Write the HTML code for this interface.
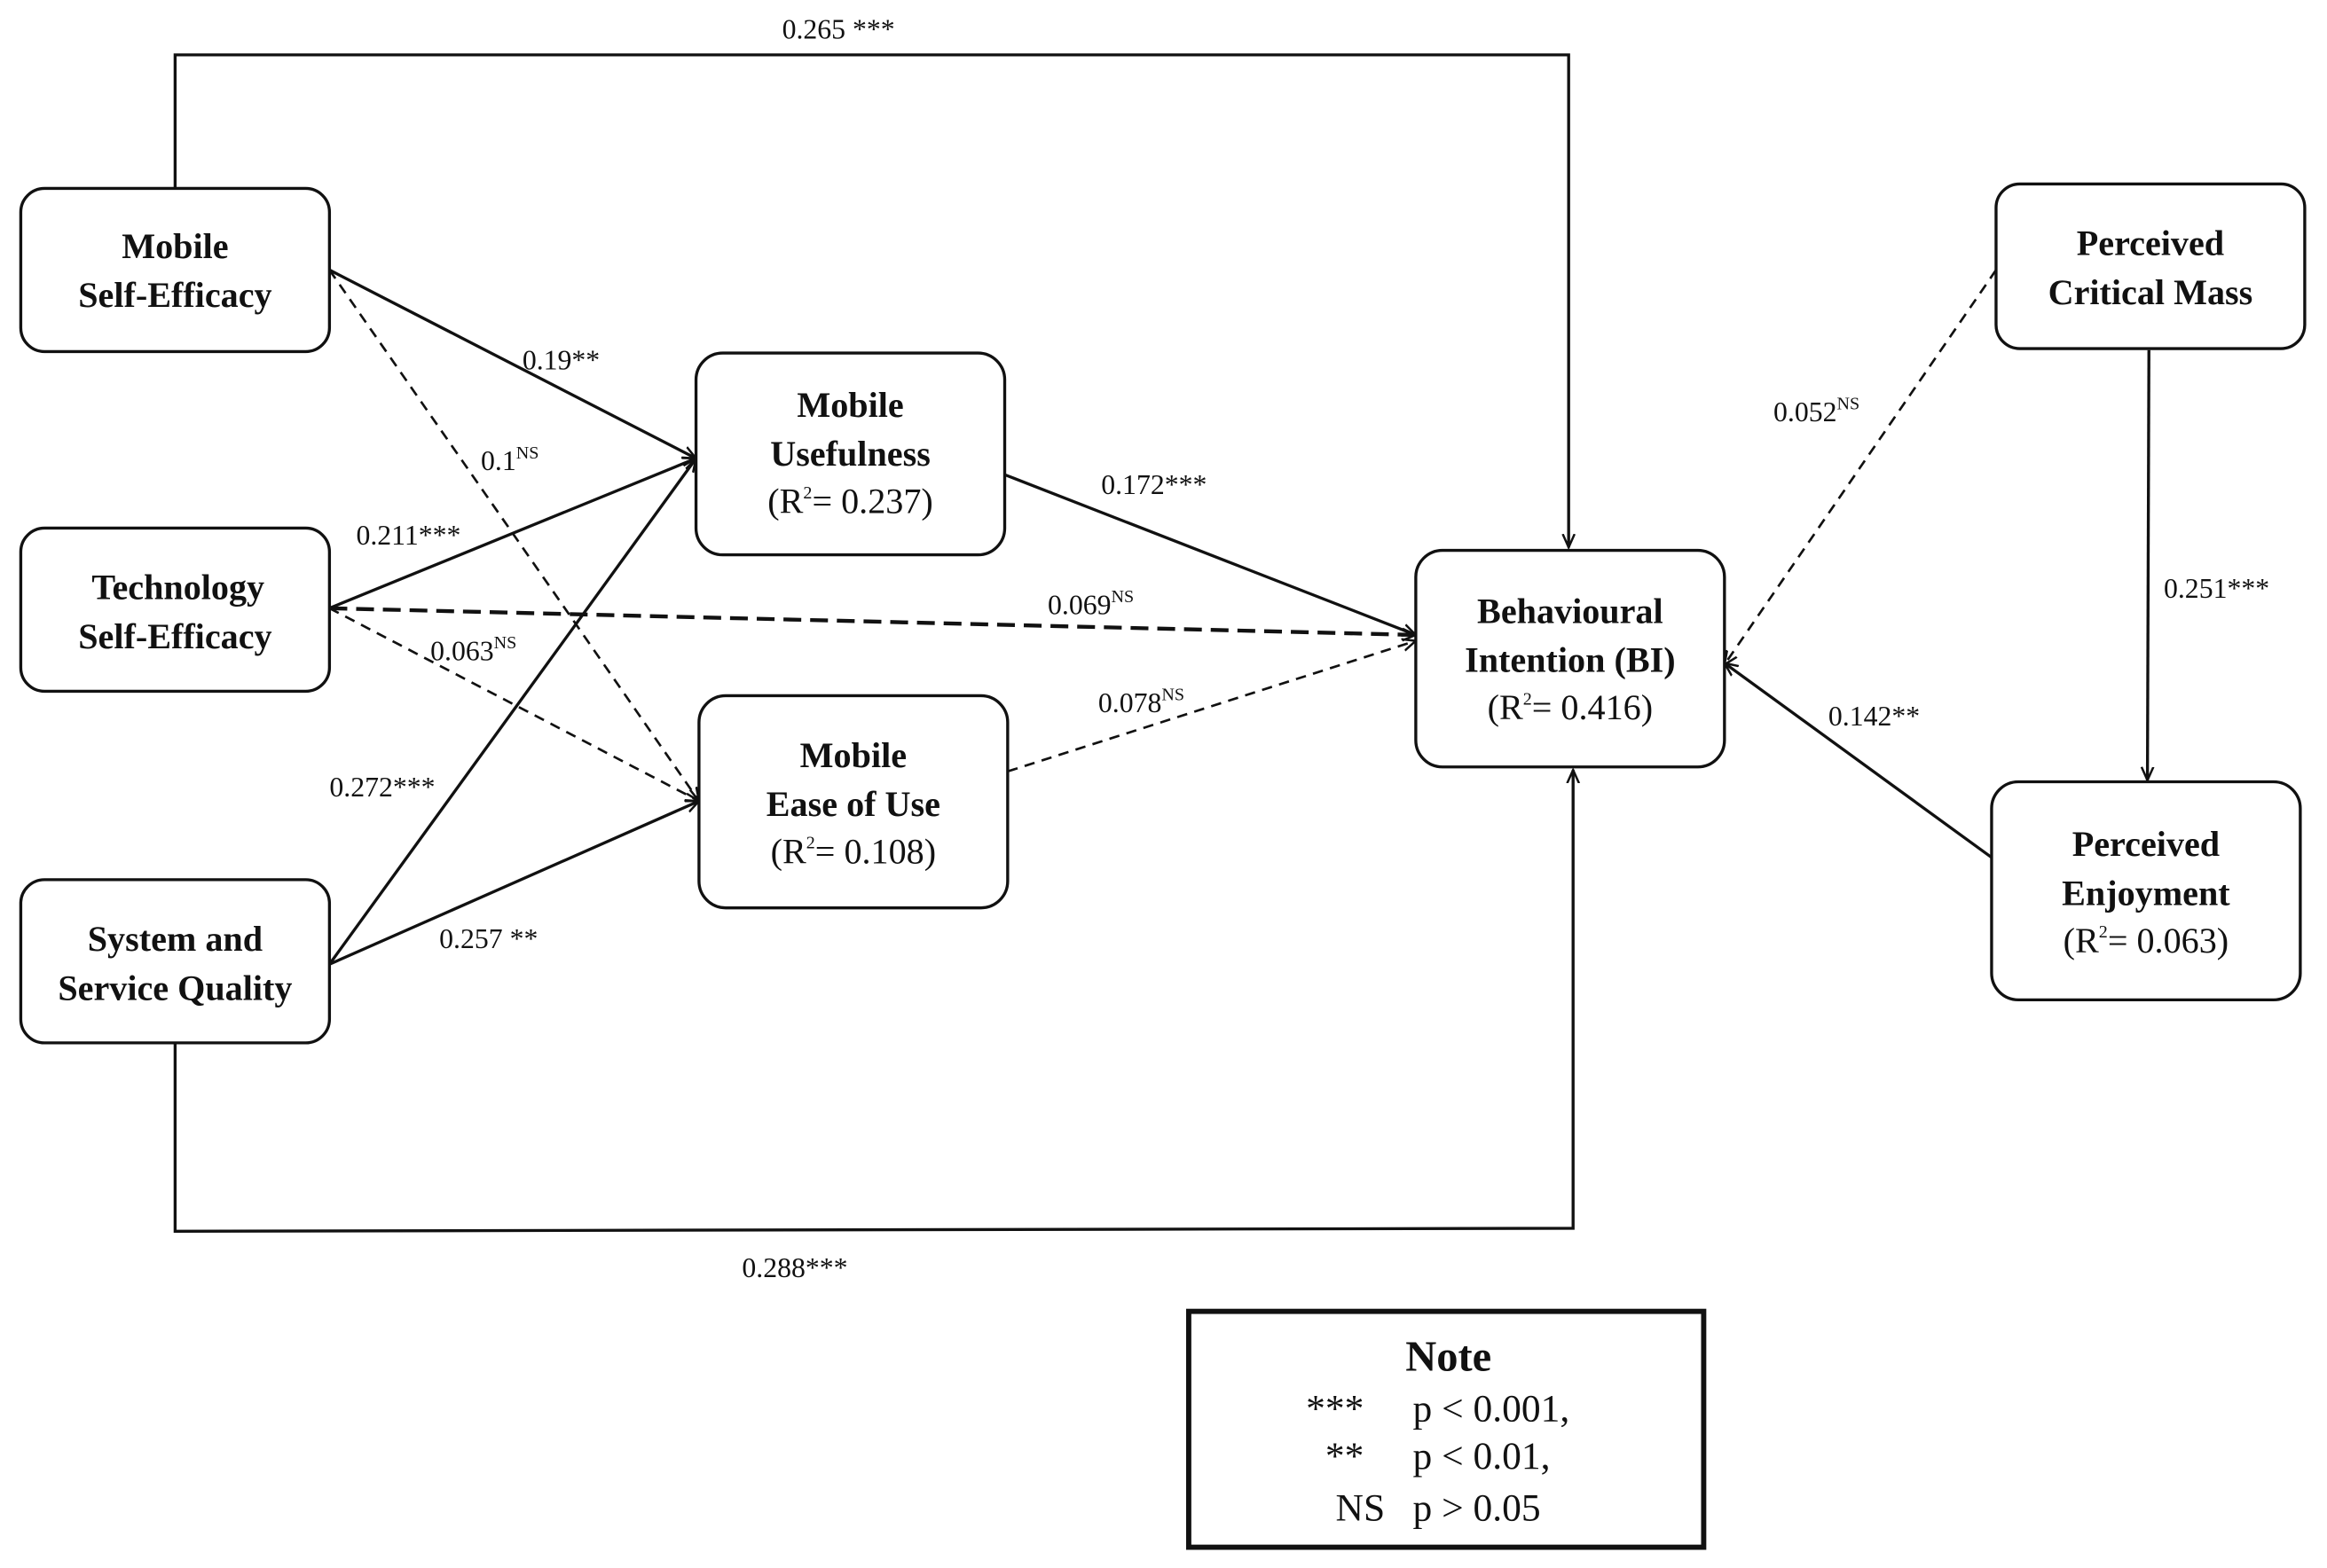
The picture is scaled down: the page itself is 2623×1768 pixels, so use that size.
<!DOCTYPE html>
<html><head><meta charset="utf-8"><style>
html,body{margin:0;padding:0;background:#fff;}
svg{display:block;}
text{font-family:"Liberation Serif",serif;fill:#111;}
.b{font-weight:bold;font-size:24px;}
.n{font-size:24px;}
.l{font-size:19px;}
.s{font-size:12px;}
</style></head><body>
<svg width="2623" height="1768" viewBox="0 0 1568 1057" preserveAspectRatio="none">
<defs>
<marker id="a" markerWidth="10" markerHeight="10" refX="9" refY="5" orient="auto" markerUnits="userSpaceOnUse">
<path d="M0,1 L9,5 L0,9" fill="none" stroke="#111" stroke-width="1.5"/>
</marker>
</defs>
<g fill="none" stroke="#111" stroke-width="2">
<polyline points="118,127 118,37 1057,37 1057,369" marker-end="url(#a)"/>
<polyline points="118,703 118,830 1060,828 1060,519" marker-end="url(#a)"/>
<line x1="222" y1="182" x2="469" y2="309" marker-end="url(#a)"/>
<line x1="222" y1="410" x2="469" y2="309" marker-end="url(#a)"/>
<line x1="222" y1="650" x2="469" y2="309" marker-end="url(#a)"/>
<line x1="222" y1="650" x2="471" y2="540" marker-end="url(#a)"/>
<line x1="677" y1="320" x2="954" y2="428" marker-end="url(#a)"/>
<line x1="1448" y1="236" x2="1447" y2="526" marker-end="url(#a)"/>
<line x1="1342" y1="578" x2="1162" y2="447" marker-end="url(#a)"/>
<g stroke-dasharray="7,5" stroke-width="1.6">
<line x1="222" y1="182" x2="471" y2="540" marker-end="url(#a)"/>
<line x1="222" y1="410" x2="471" y2="540" marker-end="url(#a)"/>
<line x1="679" y1="520" x2="954" y2="432" marker-end="url(#a)"/>
<line x1="1345" y1="182" x2="1162" y2="448" marker-end="url(#a)"/>
</g>
<line x1="222" y1="410" x2="954" y2="428" stroke-dasharray="12,6" stroke-width="2.6" marker-end="url(#a)"/>
</g>
<g fill="#fff" stroke="#111" stroke-width="2">
<rect x="14" y="127" width="208" height="110" rx="16"/>
<rect x="14" y="356" width="208" height="110" rx="16"/>
<rect x="14" y="593" width="208" height="110" rx="16"/>
<rect x="469" y="238" width="208" height="136" rx="18"/>
<rect x="471" y="469" width="208" height="143" rx="18"/>
<rect x="954" y="371" width="208" height="146" rx="18"/>
<rect x="1345" y="124" width="208" height="111" rx="16"/>
<rect x="1342" y="527" width="208" height="147" rx="18"/>
<rect x="801" y="884" width="347" height="159" stroke-width="3.5"/>
</g>
<g text-anchor="middle">
<text class="b" x="118" y="174">Mobile</text>
<text class="b" x="118" y="207">Self-Efficacy</text>
<text class="b" x="120" y="404">Technology</text>
<text class="b" x="118" y="437">Self-Efficacy</text>
<text class="b" x="118" y="641">System and</text>
<text class="b" x="118" y="674">Service Quality</text>
<text class="b" x="573" y="281">Mobile</text>
<text class="b" x="573" y="314">Usefulness</text>
<text class="n" x="573" y="346">(R<tspan class="s" dy="-10">2</tspan><tspan dy="10">= 0.237)</tspan></text>
<text class="b" x="575" y="517">Mobile</text>
<text class="b" x="575" y="550">Ease of Use</text>
<text class="n" x="575" y="582">(R<tspan class="s" dy="-10">2</tspan><tspan dy="10">= 0.108)</tspan></text>
<text class="b" x="1058" y="420">Behavioural</text>
<text class="b" x="1058" y="453">Intention (BI)</text>
<text class="n" x="1058" y="485">(R<tspan class="s" dy="-10">2</tspan><tspan dy="10">= 0.416)</tspan></text>
<text class="b" x="1449" y="172">Perceived</text>
<text class="b" x="1449" y="205">Critical Mass</text>
<text class="b" x="1446" y="577">Perceived</text>
<text class="b" x="1446" y="610">Enjoyment</text>
<text class="n" x="1446" y="642">(R<tspan class="s" dy="-10">2</tspan><tspan dy="10">= 0.063)</tspan></text>
<text style="font-weight:bold;font-size:29px" x="976" y="924">Note</text>
</g>
<g class="l">
<text class="l" x="527" y="26">0.265 ***</text>
<text class="l" x="352" y="249">0.19**</text>
<text class="l" x="324" y="317">0.1<tspan class="s" dy="-8">NS</tspan></text>
<text class="l" x="240" y="367">0.211***</text>
<text class="l" x="290" y="445">0.063<tspan class="s" dy="-8">NS</tspan></text>
<text class="l" x="222" y="537">0.272***</text>
<text class="l" x="296" y="639">0.257 **</text>
<text class="l" x="742" y="333">0.172***</text>
<text class="l" x="706" y="414">0.069<tspan class="s" dy="-8">NS</tspan></text>
<text class="l" x="740" y="480">0.078<tspan class="s" dy="-8">NS</tspan></text>
<text class="l" x="1195" y="284">0.052<tspan class="s" dy="-8">NS</tspan></text>
<text class="l" x="1458" y="403">0.251***</text>
<text class="l" x="1232" y="489">0.142**</text>
<text class="l" x="500" y="861">0.288***</text>
</g>
<g style="font-size:26px">
<text x="880" y="958" style="font-size:26px">***</text>
<text x="952" y="958" style="font-size:26px">p &lt; 0.001,</text>
<text x="893" y="990" style="font-size:26px">**</text>
<text x="952" y="990" style="font-size:26px">p &lt; 0.01,</text>
<text x="900" y="1025" style="font-size:26px">NS</text>
<text x="952" y="1025" style="font-size:26px">p &gt; 0.05</text>
</g>
</svg>
</body></html>
